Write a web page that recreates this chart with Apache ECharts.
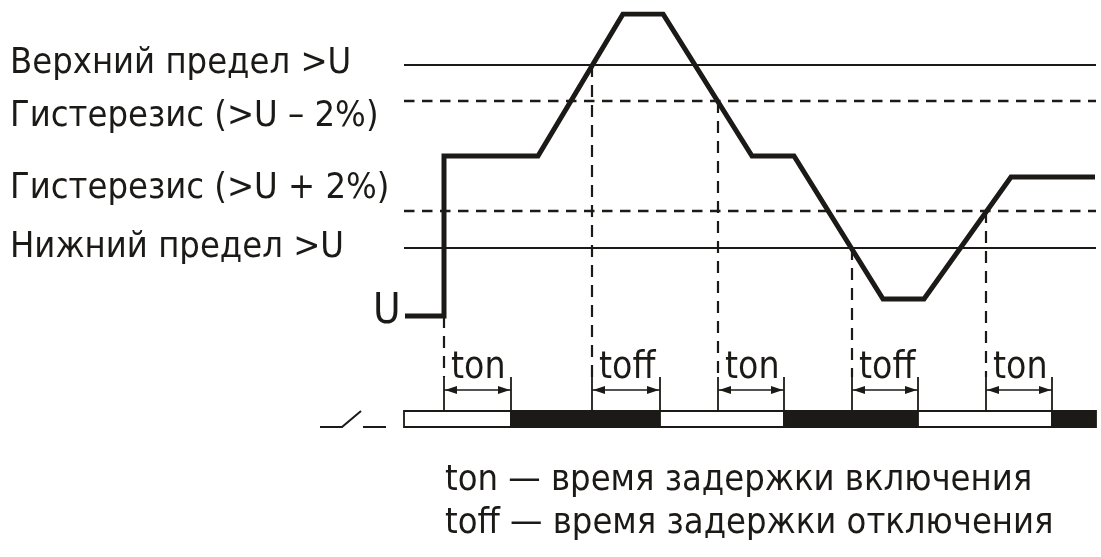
<!DOCTYPE html>
<html>
<head>
<meta charset="utf-8">
<script src="https://cdn.jsdelivr.net/npm/echarts@6/dist/echarts.min.js"></script>
<style>
html,body{margin:0;padding:0;background:#fff;}
#main{width:1101px;height:557px;}
</style>
</head>
<body>
<div id="main"></div>
<script>
// время (усл. ед.) и напряжение (усл. ед.)
var timeMax = 692;
var curveT = [1, 40, 40, 134, 219, 259, 348, 390, 479, 520, 607, 691];
var curveU = [0, 0, 160, 160, 302, 302, 160, 160, 17, 17, 139, 139];

// пороги
var levelNames = ['Верхний предел >U', 'Гистерезис (>U – 2%)', 'Гистерезис (>U + 2%)', 'Нижний предел >U'];
var levelValues = [251, 215, 105, 68];
var levelDashed = [false, true, true, false];

// события пересечения порогов и задержки
var eventT = [40, 188, 314, 448, 582];
var eventU = [0, 251, 215, 68, 105];
var eventName = ['ton', 'toff', 'ton', 'toff', 'ton'];
var delayT = [67, 68, 66, 66, 66];
var relayState = [0, 1, 0, 1, 0, 1]; // 0 - разомкнут, 1 - замкнут

var noteLines = ['ton — время задержки включения', 'toff — время задержки отключения'];

var ink = '#1c1a17';
var font = '"DejaVu Sans Condensed", "Liberation Sans Narrow", sans-serif';

function doChart(){
	var dom = document.getElementById('main');
	var myChart = echarts.init(dom);

	var curveData = [];
	$each(curveT, function(i, t){ curveData.push([t, curveU[i]]); });

	// линии порогов + пунктир от точек пересечения
	var markData = [];
	$each(levelValues, function(i, v){
		markData.push({
			yAxis: v,
			lineStyle: levelDashed[i] ? {color: ink, width: 2.4, type: [10.5, 7.5]} : {color: ink, width: 2, type: 'solid'}
		});
	});
	$each(eventT, function(i, t){
		markData.push([
			{coord: [t, eventU[i]], lineStyle: {color: ink, width: 2.2, type: [12, 8]}},
			{coord: [t, -61]}
		]);
	});

	// участки состояния реле
	var relayData = [];
	var bounds = [0];
	$each(eventT, function(i, t){ bounds.push(t + delayT[i]); });
	bounds.push(timeMax);
	$each(relayState, function(i, s){ relayData.push([bounds[i], bounds[i + 1], s]); });

	var delayData = [];
	$each(eventT, function(i, t){ delayData.push([t, t + delayT[i], i]); });

	var graphics = [];
	var labelY = [68, 121, 193, 252];
	$each(levelNames, function(i, name){
		graphics.push({type: 'text', left: 10, top: labelY[i] - 22,
			style: {text: name, font: '36px ' + font, fill: ink}});
	});
	graphics.push({type: 'text', x: 373, y: 312,
		style: {text: 'U', font: '42px ' + font, fill: ink, verticalAlign: 'middle'}});
	graphics.push({type: 'polyline', shape: {points: [[320, 427], [342, 427], [361, 411]]},
		style: {stroke: ink, lineWidth: 2, fill: null}});
	graphics.push({type: 'line', shape: {x1: 363, y1: 427, x2: 386, y2: 427},
		style: {stroke: ink, lineWidth: 2}});
	$each(noteLines, function(i, s){
		graphics.push({type: 'text', x: 445, y: 481 + i * 43,
			style: {text: s, font: '36px ' + font, fill: ink, verticalAlign: 'middle'}});
	});

	var option = {
		animation: false,
		backgroundColor: '#fff',
		grid: [
			{left: 404, right: 5, top: 14, height: 363},
			{left: 404, right: 5, top: 377, height: 50}
		],
		xAxis: [
			{type: 'value', gridIndex: 0, min: 0, max: timeMax, show: false},
			{type: 'value', gridIndex: 1, min: 0, max: timeMax, show: false}
		],
		yAxis: [
			{type: 'value', gridIndex: 0, min: -61, max: 302, show: false},
			{type: 'value', gridIndex: 1, min: 0, max: 50, show: false}
		],
		graphic: graphics,
		series: [
			{
				type: 'line',
				xAxisIndex: 0,
				yAxisIndex: 0,
				data: curveData,
				symbol: 'none',
				z: 5,
				lineStyle: {color: ink, width: 5, join: 'miter'},
				markLine: {
					silent: true,
					symbol: ['none', 'none'],
					label: {show: false},
					data: markData
				}
			},
			{
				type: 'custom',
				xAxisIndex: 1,
				yAxisIndex: 1,
				data: relayData,
				encode: {x: [0, 1]},
				renderItem: function(params, api){
					var p0 = api.coord([api.value(0), 16]);
					var p1 = api.coord([api.value(1), 0]);
					return {
						type: 'rect',
						shape: {x: p0[0], y: p0[1], width: p1[0] - p0[0], height: p1[1] - p0[1]},
						style: {fill: api.value(2) ? ink : '#fff', stroke: ink, lineWidth: 1.8}
					};
				}
			},
			{
				type: 'custom',
				xAxisIndex: 1,
				yAxisIndex: 1,
				data: delayData,
				encode: {x: [0, 1]},
				clip: false,
				renderItem: function(params, api){
					var a = api.coord([api.value(0), 37]);
					var b = api.coord([api.value(1), 37]);
					var top = api.coord([api.value(0), 50])[1];
					var bot = api.coord([api.value(0), 16])[1];
					var y = a[1];
					var st = {stroke: ink, lineWidth: 1.8};
					return {
						type: 'group',
						children: [
							{type: 'line', shape: {x1: a[0], y1: top, x2: a[0], y2: bot}, style: st},
							{type: 'line', shape: {x1: b[0], y1: top, x2: b[0], y2: bot}, style: st},
							{type: 'line', shape: {x1: a[0], y1: y, x2: b[0], y2: y}, style: {stroke: ink, lineWidth: 1.5}},
							{type: 'polygon', shape: {points: [[a[0] + 1, y], [a[0] + 13, y - 4], [a[0] + 13, y + 4]]}, style: {fill: ink}},
							{type: 'polygon', shape: {points: [[b[0] - 1, y], [b[0] - 13, y - 4], [b[0] - 13, y + 4]]}, style: {fill: ink}},
							{type: 'text', x: a[0] + 7, y: top - 9,
								style: {text: eventName[api.value(2)], font: '37px ' + font, fill: ink, verticalAlign: 'middle'}}
						]
					};
				}
			}
		]
	};
	myChart.setOption(option, true);
}

function $each(arr, fn){
	for (var i = 0; i < arr.length; i++) fn(i, arr[i]);
}

doChart();
</script>
</body>
</html>
